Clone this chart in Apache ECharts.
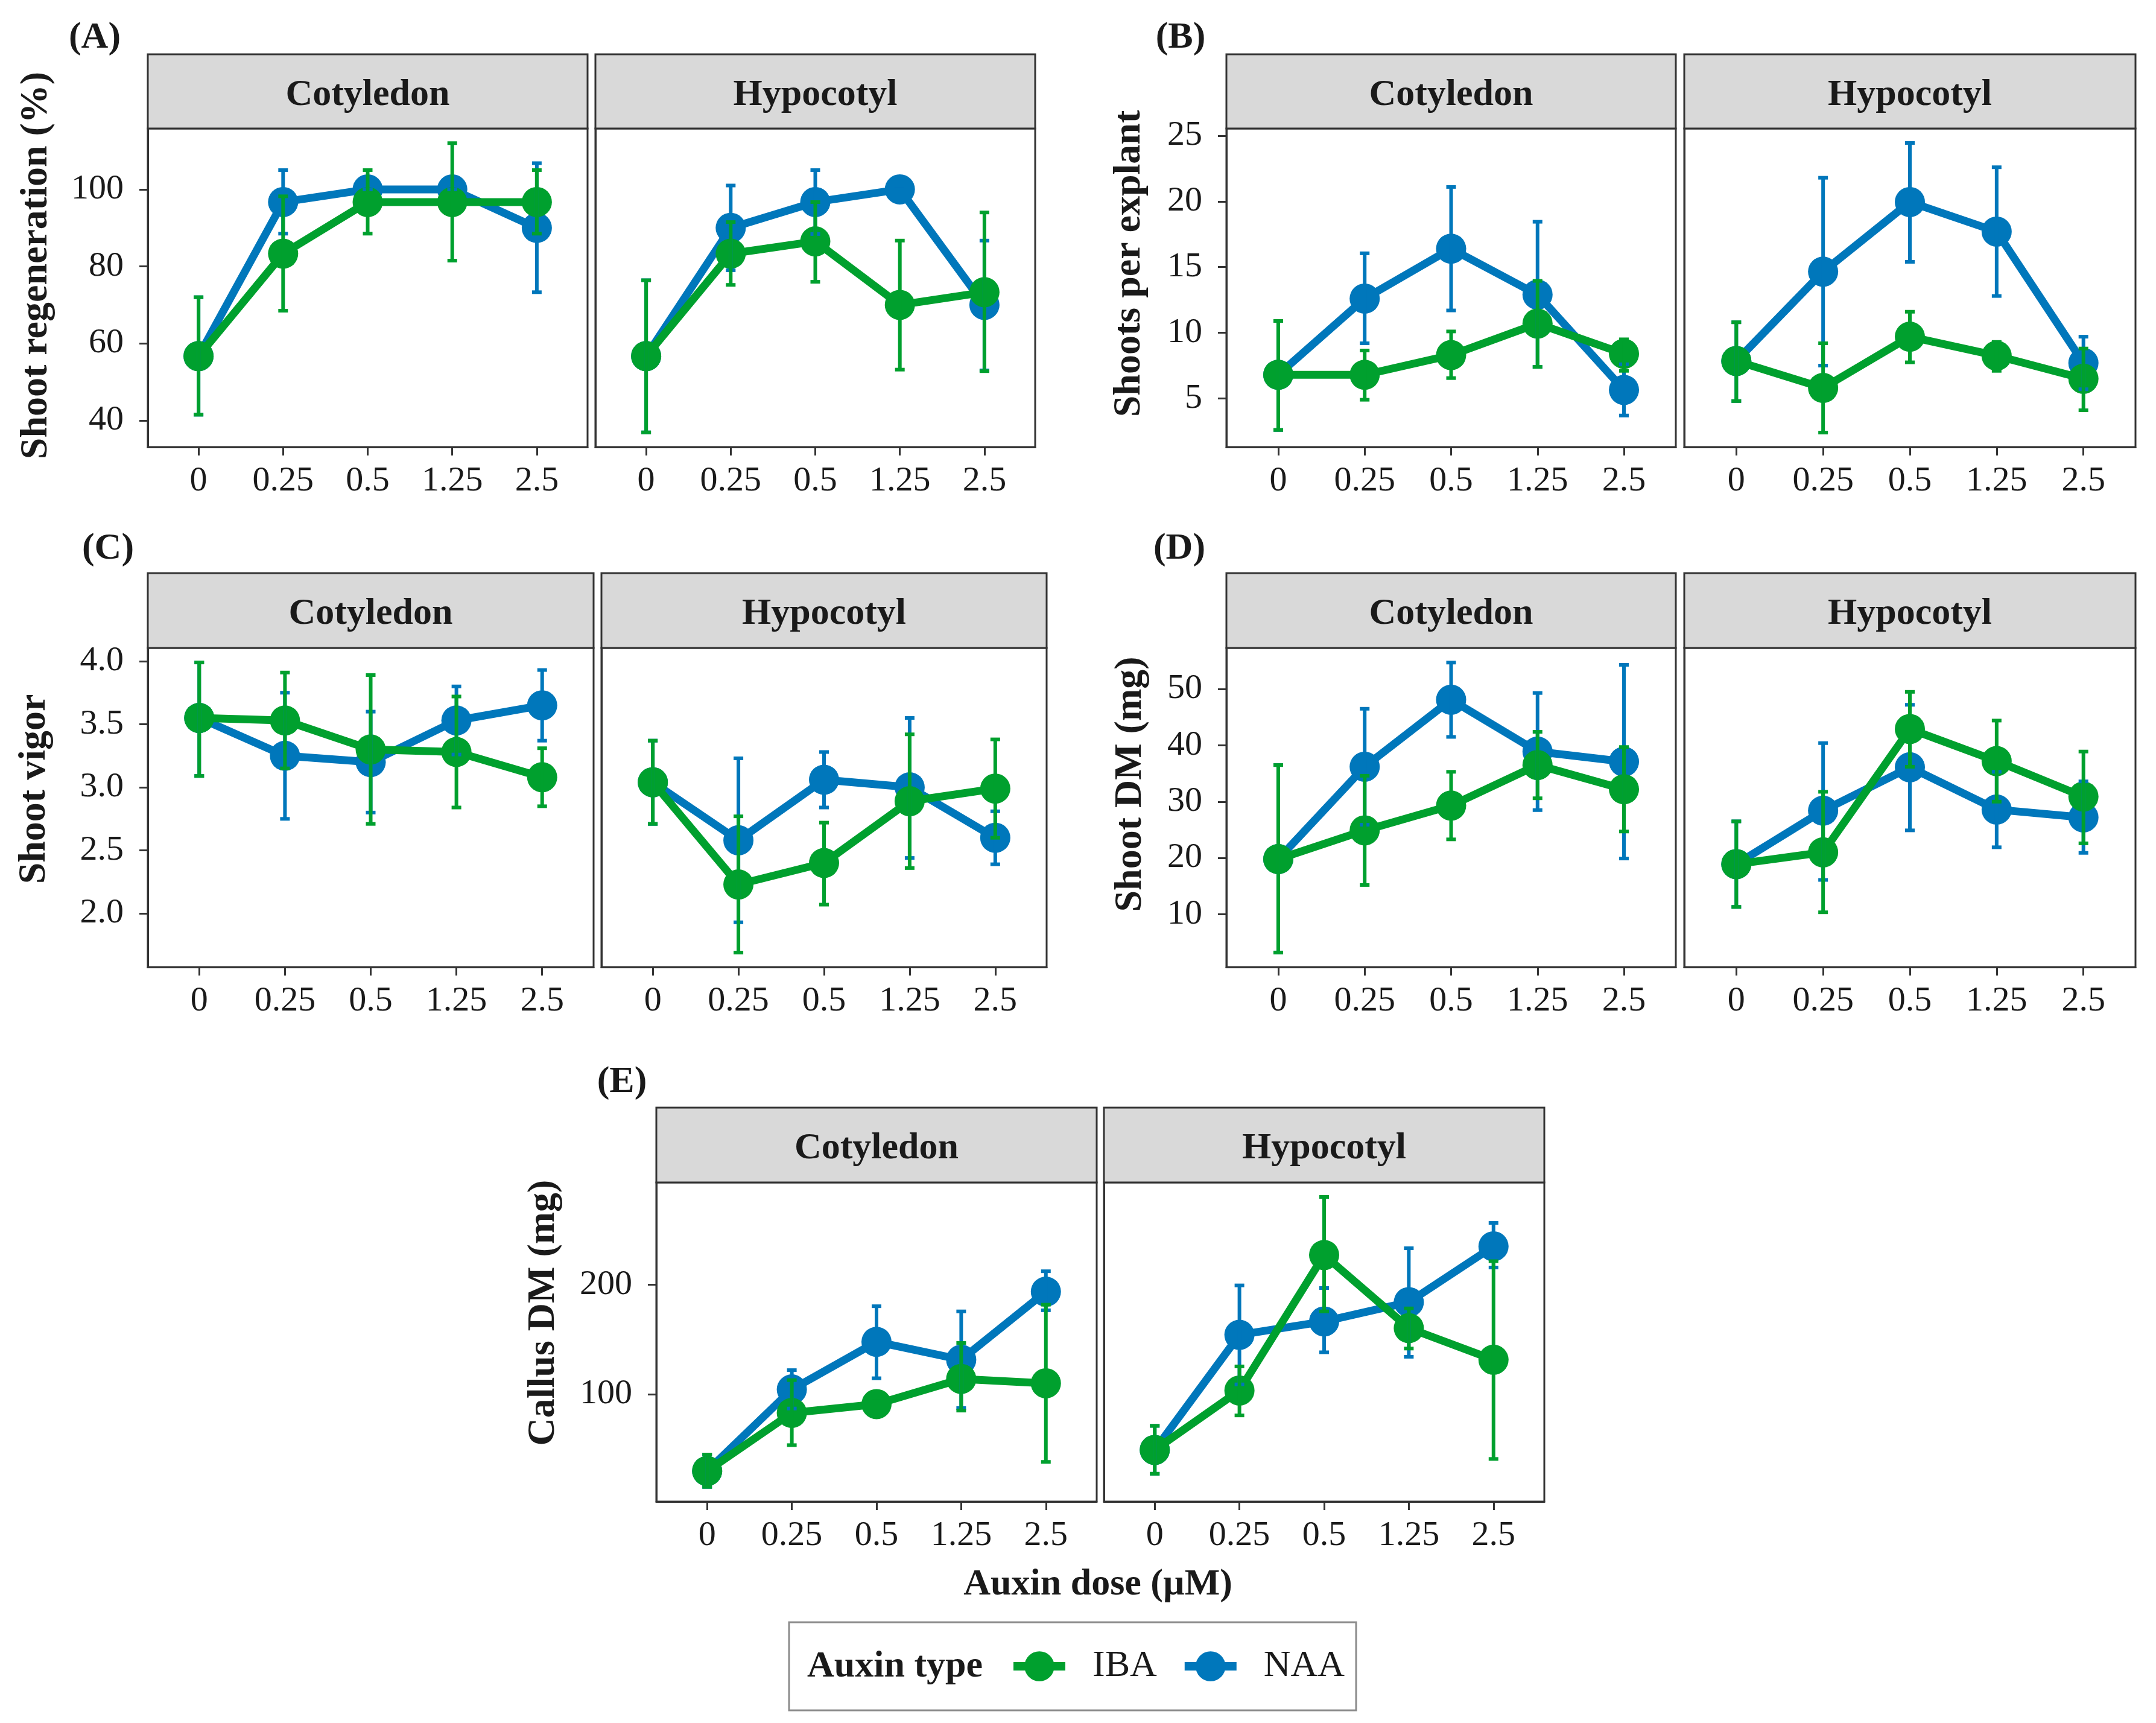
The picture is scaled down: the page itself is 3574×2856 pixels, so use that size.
<!DOCTYPE html>
<html>
<head>
<meta charset="utf-8">
<script src="https://cdn.jsdelivr.net/npm/echarts@6/dist/echarts.min.js"></script>
<style>
html,body{margin:0;padding:0;background:#fff;}
#chart{width:3574px;height:2856px;}
</style>
</head>
<body>
<div id="chart"></div>
<script>
// ---------------- DATA ----------------
const doses = ['0', '0.25', '0.5', '1.25', '2.5'];
const explants = ['Cotyledon', 'Hypocotyl'];
const auxins = ['IBA', 'NAA'];

// (A) Shoot regeneration (%)
const regenCotIBA   = [56.7, 83.3, 96.7, 96.7, 96.7];
const regenCotIBALo = [41.5, 68.5, 88.5, 81.5, 88.5];
const regenCotIBAHi = [72.0, 98.2, 105.0, 112.0, 105.0];
const regenCotNAA   = [56.7, 96.7, 100.0, 100.0, 90.0];
const regenCotNAALo = [41.5, 88.5, 100.0, 100.0, 73.3];
const regenCotNAAHi = [72.0, 105.0, 100.0, 100.0, 106.8];
const regenHypIBA   = [56.7, 83.3, 86.5, 70.0, 73.3];
const regenHypIBALo = [36.9, 75.2, 76.0, 53.2, 52.8];
const regenHypIBAHi = [76.4, 91.5, 96.7, 86.7, 94.0];
const regenHypNAA   = [56.7, 90.0, 96.7, 100.0, 70.0];
const regenHypNAALo = [36.9, 79.0, 88.4, 100.0, 53.0];
const regenHypNAAHi = [76.4, 101.0, 105.0, 100.0, 86.7];
const regenTicks = [40, 60, 80, 100];
const regenRange = [33.1, 115.8];

// (B) Shoots per explant
const shootsCotIBA   = [6.8, 6.8, 8.3, 10.7, 8.4];
const shootsCotIBALo = [2.6, 4.9, 6.55, 7.4, 7.1];
const shootsCotIBAHi = [10.9, 8.65, 10.1, 13.95, 9.5];
const shootsCotNAA   = [6.8, 12.6, 16.4, 12.9, 5.65];
const shootsCotNAALo = [2.6, 9.2, 11.7, 7.4, 3.7];
const shootsCotNAAHi = [10.9, 16.05, 21.1, 18.45, 7.6];
const shootsHypIBA   = [7.85, 5.8, 9.7, 8.25, 6.5];
const shootsHypIBALo = [4.8, 2.4, 7.75, 7.1, 4.1];
const shootsHypIBAHi = [10.8, 9.2, 11.6, 9.3, 8.8];
const shootsHypNAA   = [7.85, 14.65, 19.95, 17.7, 7.7];
const shootsHypNAALo = [4.8, 7.5, 15.4, 12.8, 5.7];
const shootsHypNAAHi = [10.8, 21.8, 24.45, 22.6, 9.7];
const shootsTicks = [5, 10, 15, 20, 25];
const shootsRange = [1.3, 25.55];

// (C) Shoot vigor
const vigorCotIBA   = [3.55, 3.53, 3.30, 3.28, 3.08];
const vigorCotIBALo = [3.09, 3.15, 2.71, 2.84, 2.85];
const vigorCotIBAHi = [3.99, 3.91, 3.89, 3.72, 3.31];
const vigorCotNAA   = [3.55, 3.25, 3.20, 3.53, 3.65];
const vigorCotNAALo = [3.09, 2.75, 2.80, 3.26, 3.37];
const vigorCotNAAHi = [3.99, 3.75, 3.60, 3.80, 3.93];
const vigorHypIBA   = [3.04, 2.23, 2.40, 2.89, 2.99];
const vigorHypIBALo = [2.71, 1.69, 2.07, 2.36, 2.60];
const vigorHypIBAHi = [3.37, 2.77, 2.72, 3.42, 3.38];
const vigorHypNAA   = [3.04, 2.58, 3.06, 3.00, 2.60];
const vigorHypNAALo = [2.71, 1.93, 2.84, 2.44, 2.39];
const vigorHypNAAHi = [3.37, 3.23, 3.28, 3.55, 2.81];
const vigorTicks = [2.0, 2.5, 3.0, 3.5, 4.0];
const vigorRange = [1.575, 4.105];

// (D) Shoot DM (mg)
const shootDMCotIBA   = [19.8, 24.9, 29.3, 36.5, 32.2];
const shootDMCotIBALo = [3.2, 15.2, 23.3, 30.6, 24.7];
const shootDMCotIBAHi = [36.5, 34.6, 35.3, 42.4, 39.7];
const shootDMCotNAA   = [19.8, 36.2, 48.1, 38.9, 37.1];
const shootDMCotNAALo = [3.2, 25.9, 41.5, 28.5, 19.9];
const shootDMCotNAAHi = [36.5, 46.5, 54.7, 49.3, 54.3];
const shootDMHypIBA   = [18.9, 21.0, 42.9, 37.2, 30.9];
const shootDMHypIBALo = [11.3, 10.35, 36.2, 30.0, 22.6];
const shootDMHypIBAHi = [26.5, 31.75, 49.5, 44.4, 38.9];
const shootDMHypNAA   = [18.9, 28.4, 36.1, 28.6, 27.2];
const shootDMHypNAALo = [11.3, 16.1, 24.9, 21.9, 20.9];
const shootDMHypNAAHi = [26.5, 40.4, 47.2, 35.3, 33.6];
const shootDMTicks = [10, 20, 30, 40, 50];
const shootDMRange = [0.62, 57.3];

// (E) Callus DM (mg)
const callusCotIBA   = [30.0, 83.0, 91.0, 114.0, 110.0];
const callusCotIBALo = [15.5, 53.6, 85.0, 85.1, 38.3];
const callusCotIBAHi = [45.0, 112.9, 97.0, 146.8, 181.7];
const callusCotNAA   = [30.0, 104.4, 147.8, 131.5, 193.6];
const callusCotNAALo = [15.5, 87.0, 114.6, 87.4, 176.6];
const callusCotNAAHi = [45.0, 122.0, 180.3, 175.6, 212.2];
const callusHypIBA   = [49.2, 103.4, 227.0, 160.3, 131.5];
const callusHypIBALo = [27.5, 80.7, 175.6, 141.7, 41.0];
const callusHypIBAHi = [71.2, 125.4, 280.0, 178.3, 221.4];
const callusHypNAA   = [49.2, 154.2, 166.4, 184.0, 234.9];
const callusHypNAALo = [27.5, 109.0, 138.3, 134.2, 215.6];
const callusHypNAAHi = [71.2, 199.3, 196.9, 233.2, 256.3];
const callusTicks = [100, 200];
const callusRange = [2.1, 293.2];

// ---------------- PANEL DEFINITIONS ----------------
const panels = [
  { label: '(A)', title: 'Shoot regeneration (%)', ticks: regenTicks, range: regenRange, dec: 0,
    facets: [
      { IBA: [regenCotIBA, regenCotIBALo, regenCotIBAHi], NAA: [regenCotNAA, regenCotNAALo, regenCotNAAHi] },
      { IBA: [regenHypIBA, regenHypIBALo, regenHypIBAHi], NAA: [regenHypNAA, regenHypNAALo, regenHypNAAHi] } ] },
  { label: '(B)', title: 'Shoots per explant', ticks: shootsTicks, range: shootsRange, dec: 0,
    facets: [
      { IBA: [shootsCotIBA, shootsCotIBALo, shootsCotIBAHi], NAA: [shootsCotNAA, shootsCotNAALo, shootsCotNAAHi] },
      { IBA: [shootsHypIBA, shootsHypIBALo, shootsHypIBAHi], NAA: [shootsHypNAA, shootsHypNAALo, shootsHypNAAHi] } ] },
  { label: '(C)', title: 'Shoot vigor', ticks: vigorTicks, range: vigorRange, dec: 1,
    facets: [
      { IBA: [vigorCotIBA, vigorCotIBALo, vigorCotIBAHi], NAA: [vigorCotNAA, vigorCotNAALo, vigorCotNAAHi] },
      { IBA: [vigorHypIBA, vigorHypIBALo, vigorHypIBAHi], NAA: [vigorHypNAA, vigorHypNAALo, vigorHypNAAHi] } ] },
  { label: '(D)', title: 'Shoot DM (mg)', ticks: shootDMTicks, range: shootDMRange, dec: 0,
    facets: [
      { IBA: [shootDMCotIBA, shootDMCotIBALo, shootDMCotIBAHi], NAA: [shootDMCotNAA, shootDMCotNAALo, shootDMCotNAAHi] },
      { IBA: [shootDMHypIBA, shootDMHypIBALo, shootDMHypIBAHi], NAA: [shootDMHypNAA, shootDMHypNAALo, shootDMHypNAAHi] } ] },
  { label: '(E)', title: 'Callus DM (mg)', ticks: callusTicks, range: callusRange, dec: 0,
    facets: [
      { IBA: [callusCotIBA, callusCotIBALo, callusCotIBAHi], NAA: [callusCotNAA, callusCotNAALo, callusCotNAAHi] },
      { IBA: [callusHypIBA, callusHypIBALo, callusHypIBAHi], NAA: [callusHypNAA, callusHypNAALo, callusHypNAAHi] } ] }
];

// ---------------- LAYOUT (pixels) ----------------
const layout = [
  { cols: [[245, 974], [987, 1716]],   strip: 90,   top: 213,  bottom: 741,  lab: [157, 63],    ttl: [60, 440] },
  { cols: [[2033, 2778], [2792, 3540]], strip: 90,  top: 213,  bottom: 741,  lab: [1957, 63],   ttl: [1872, 437] },
  { cols: [[245, 984], [997, 1735]],   strip: 950,  top: 1074, bottom: 1603, lab: [179, 910],   ttl: [57, 1308] },
  { cols: [[2033, 2778], [2792, 3540]], strip: 950, top: 1074, bottom: 1603, lab: [1955, 910],  ttl: [1874, 1300] },
  { cols: [[1088, 1818], [1830, 2560]], strip: 1836, top: 1960, bottom: 2489, lab: [1031, 1794], ttl: [901, 2176] }
];

const COLORS = { IBA: '#00A02E', NAA: '#0077BB' };
const FONT = 'Liberation Serif';
const TXT = '#1a1a1a';
const xPos = [0, 1, 2, 3, 4];

function errRender(color) {
  return function (params, api) {
    const x = api.value(0);
    const lo = api.coord([x, api.value(1)]);
    const hi = api.coord([x, api.value(2)]);
    const cw = 8;
    const st = { stroke: color, lineWidth: 6 };
    return {
      type: 'group',
      children: [
        { type: 'line', shape: { x1: lo[0], y1: lo[1], x2: hi[0], y2: hi[1] }, style: st },
        { type: 'line', shape: { x1: lo[0] - cw, y1: lo[1], x2: lo[0] + cw, y2: lo[1] }, style: st },
        { type: 'line', shape: { x1: hi[0] - cw, y1: hi[1], x2: hi[0] + cw, y2: hi[1] }, style: st }
      ]
    };
  };
}

const grids = [], xAxes = [], yAxes = [], series = [], graphics = [];
let g = 0;
panels.forEach((p, pi) => {
  const L = layout[pi];
  graphics.push({ type: 'text', x: L.lab[0], y: L.lab[1], z: 10,
    style: { text: p.label, fontSize: 62, fontWeight: 'bold', fontFamily: FONT, fill: TXT, align: 'center', verticalAlign: 'middle' } });
  graphics.push({ type: 'text', x: L.ttl[0], y: L.ttl[1], rotation: Math.PI / 2, z: 10,
    style: { text: p.title, fontSize: 64, fontWeight: 'bold', fontFamily: FONT, fill: TXT, align: 'center', verticalAlign: 'middle' } });
  p.facets.forEach((f, fi) => {
    const [x0, x1] = L.cols[fi];
    grids.push({ left: x0, top: L.top, width: x1 - x0, height: L.bottom - L.top,
      show: true, borderColor: '#333', borderWidth: 3, backgroundColor: '#fff',
      containLabel: false, outerBoundsMode: 'none' });
    graphics.push({ type: 'rect', z: 5,
      shape: { x: x0, y: L.strip, width: x1 - x0, height: L.top - L.strip },
      style: { fill: '#D9D9D9', stroke: '#333', lineWidth: 3 } });
    graphics.push({ type: 'text', x: (x0 + x1) / 2, y: (L.strip + L.top) / 2 + 6, z: 6,
      style: { text: explants[fi], fontSize: 62, fontWeight: 'bold', fontFamily: FONT, fill: TXT, align: 'center', verticalAlign: 'middle' } });
    xAxes.push({ gridIndex: g, type: 'value', min: -0.6, max: 4.6,
      axisLine: { show: true, onZero: false, lineStyle: { color: '#333', width: 3 } },
      axisTick: { show: true, customValues: xPos, length: 14, lineStyle: { color: '#333', width: 3 } },
      axisLabel: { show: true, customValues: xPos, formatter: v => doses[Math.round(v)],
        fontSize: 58, fontFamily: FONT, color: TXT, margin: 28 },
      splitLine: { show: false } });
    const left = fi === 0;
    yAxes.push({ gridIndex: g, type: 'value', min: p.range[0], max: p.range[1],
      axisLine: { show: true, onZero: false, lineStyle: { color: '#333', width: 3 } },
      axisTick: { show: left, customValues: p.ticks, length: 14, lineStyle: { color: '#333', width: 3 } },
      axisLabel: { show: left, customValues: p.ticks, formatter: v => (p.dec ? v.toFixed(p.dec) : String(v)),
        fontSize: 58, fontFamily: FONT, color: TXT, margin: 40 },
      splitLine: { show: false } });
    ['NAA', 'IBA'].forEach((a, ai) => {
      const [m] = f[a];
      series.push({ type: 'line', name: a, xAxisIndex: g, yAxisIndex: g,
        data: m.map((v, i) => [xPos[i], v]),
        symbol: 'circle', symbolSize: 50, showSymbol: true,
        lineStyle: { width: 13, color: COLORS[a] }, itemStyle: { color: COLORS[a] },
        z: 2 + ai, animation: false, silent: true });
    });
    ['NAA', 'IBA'].forEach((a) => {
      const [, lo, hi] = f[a];
      series.push({ type: 'custom', name: a + ' error', xAxisIndex: g, yAxisIndex: g,
        renderItem: errRender(COLORS[a]),
        data: lo.map((l, i) => [xPos[i], l, hi[i]]),
        encode: { x: 0, y: [1, 2] }, z: 5, animation: false, silent: true, clip: false });
    });
    g++;
  });
});

graphics.push({ type: 'text', x: 1820, y: 2627, z: 10,
  style: { text: 'Auxin dose (\u00B5M)', fontSize: 62, fontWeight: 'bold', fontFamily: FONT, fill: TXT, align: 'center', verticalAlign: 'middle' } });
graphics.push({ type: 'rect', z: 1, shape: { x: 1308, y: 2689, width: 940, height: 146 },
  style: { fill: '#fff', stroke: '#8c8c8c', lineWidth: 3 } });
graphics.push({ type: 'text', x: 1338, y: 2763, z: 10,
  style: { text: 'Auxin type', fontSize: 62, fontWeight: 'bold', fontFamily: FONT, fill: TXT, align: 'left', verticalAlign: 'middle' } });

const option = {
  backgroundColor: '#fff',
  animation: false,
  grid: grids,
  xAxis: xAxes,
  yAxis: yAxes,
  series: series,
  graphic: graphics,
  legend: {
    data: auxins, left: 1673, top: 2731, padding: 0, orient: 'horizontal',
    itemWidth: 86, itemHeight: 62, itemGap: 39, selectedMode: false, z: 20,
    lineStyle: { width: 14 },
    textStyle: { fontSize: 62, fontFamily: FONT, color: TXT, padding: [0, 0, 0, 40] }
  }
};

const chart = echarts.init(document.getElementById('chart'), null, { renderer: 'canvas', width: 3574, height: 2856 });
chart.setOption(option);
</script>
</body>
</html>
